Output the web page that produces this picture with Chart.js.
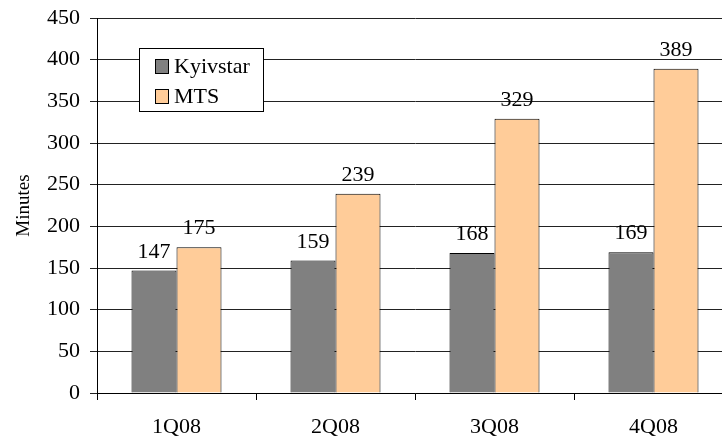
<!DOCTYPE html>
<html>
<head>
<meta charset="utf-8">
<script src="https://cdn.jsdelivr.net/npm/chart.js@4/dist/chart.umd.min.js"></script>
<style>
  html, body { margin: 0; padding: 0; background: #fff; overflow: hidden; }
  #wrap { width: 722px; height: 442px; overflow: hidden; }
</style>
</head>
<body>
<div id="wrap"><canvas id="chart" width="744" height="442"></canvas></div>
<script>
// Chart data
const quarters = ["1Q08", "2Q08", "3Q08", "4Q08"];
const kyivstar = [147, 159, 168, 169];
const mts = [175, 239, 329, 389];

const serif = "'Liberation Serif', 'Times New Roman', serif";

// Writes the value above each bar
const valueLabels = {
  id: "valueLabels",
  afterDatasetsDraw(chart) {
    const ctx = chart.ctx;
    ctx.save();
    ctx.font = "22px " + serif;
    ctx.fillStyle = "#000";
    ctx.textAlign = "center";
    ctx.textBaseline = "alphabetic";
    chart.data.datasets.forEach((ds, i) => {
      chart.getDatasetMeta(i).data.forEach((bar, j) => {
        ctx.fillText(ds.data[j], bar.x, bar.y - 13);
      });
    });
    ctx.restore();
  }
};

// Boxed legend sitting inside the plot area
const boxLegend = {
  id: "boxLegend",
  afterDraw(chart) {
    const ctx = chart.ctx;
    const x = 139, y = 48, w = 124, h = 63;
    ctx.save();
    ctx.fillStyle = "#fff";
    ctx.fillRect(x, y, w, h);
    ctx.strokeStyle = "#000";
    ctx.lineWidth = 1;
    ctx.strokeRect(x + 0.5, y + 0.5, w, h);
    ctx.font = "22px " + serif;
    ctx.textBaseline = "alphabetic";
    chart.data.datasets.forEach((ds, i) => {
      const top = y + 11 + i * 30;
      ctx.fillStyle = ds.backgroundColor;
      ctx.fillRect(x + 16, top, 13, 14);
      ctx.strokeRect(x + 16.5, top + 0.5, 13, 14);
      ctx.fillStyle = "#000";
      ctx.fillText(ds.label, x + 35, top + 14);
    });
    ctx.restore();
  }
};

new Chart(document.getElementById("chart"), {
  type: "bar",
  data: {
    labels: quarters,
    datasets: [
      { label: "Kyivstar", data: kyivstar, backgroundColor: "#808080", borderColor: "#000", borderWidth: 1 },
      { label: "MTS", data: mts, backgroundColor: "#FFCC99", borderColor: "#000", borderWidth: 1 }
    ]
  },
  options: {
    responsive: false,
    animation: false,
    layout: { padding: { top: 18, right: 11, left: 0, bottom: 0 } },
    datasets: { bar: { categoryPercentage: 0.566, barPercentage: 1 } },
    plugins: { legend: { display: false }, tooltip: { enabled: false } },
    scales: {
      x: {
        grid: { offset: true, drawOnChartArea: false, color: "#000", tickLength: 7 },
        border: { color: "#000" },
        ticks: { color: "#000", font: { family: serif, size: 22 }, padding: 14 },
        afterFit(scale) { scale.height = 49; scale.paddingLeft = 0; scale.paddingRight = 0; }
      },
      y: {
        min: 0,
        max: 450,
        ticks: { stepSize: 50, color: "#000", font: { family: serif, size: 22 }, padding: 10 },
        grid: { color: "#222", tickLength: 7 },
        border: { color: "#000" },
        title: { display: true, text: "Minutes", color: "#000", font: { family: serif, size: 19 }, padding: { top: 13, bottom: 0 } },
        afterFit(scale) { scale.width = 97; scale.paddingTop = 0; scale.paddingBottom = 0; }
      }
    }
  },
  plugins: [valueLabels, boxLegend]
});
</script>
</body>
</html>
